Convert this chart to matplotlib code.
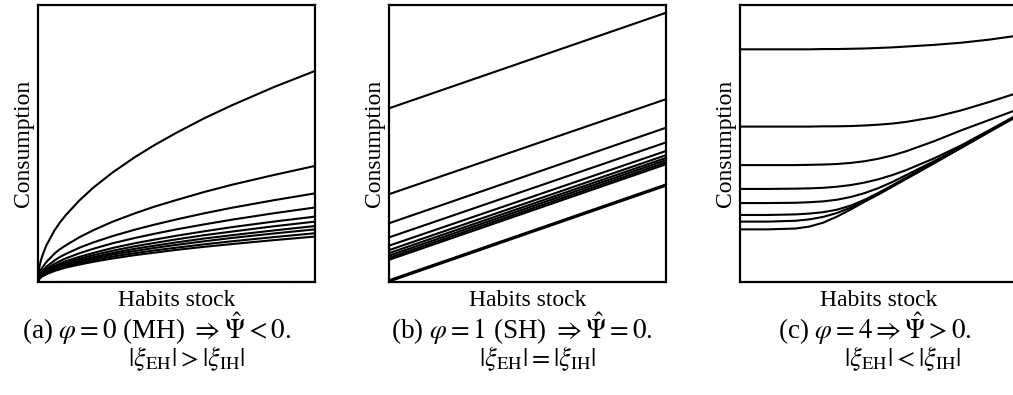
import matplotlib
matplotlib.use('Agg')
import matplotlib.pyplot as plt

plt.rcParams['font.family'] = ['Liberation Serif', 'DejaVu Serif']
plt.rcParams['mathtext.fontset'] = 'stix'

# panel (a): concave curves from the origin (phi = 0)
xa = [0, 0.005, 0.01, 0.015, 0.03, 0.06, 0.08, 0.1, 0.15, 0.2, 0.27, 0.35, 0.42, 0.5, 0.6, 0.7, 0.85, 1.0]
curves_a = [
    [0, 0.054, 0.076, 0.093, 0.132, 0.187, 0.216, 0.241, 0.295, 0.341, 0.396, 0.451, 0.494, 0.539, 0.591, 0.638, 0.703, 0.762],
    [0, 0.030, 0.042, 0.051, 0.072, 0.103, 0.119, 0.132, 0.162, 0.187, 0.218, 0.248, 0.272, 0.296, 0.325, 0.351, 0.386, 0.419],
    [0, 0.023, 0.032, 0.039, 0.055, 0.078, 0.091, 0.101, 0.124, 0.143, 0.166, 0.189, 0.207, 0.226, 0.248, 0.268, 0.295, 0.320],
    [0, 0.019, 0.027, 0.033, 0.047, 0.066, 0.076, 0.085, 0.104, 0.120, 0.140, 0.159, 0.174, 0.190, 0.208, 0.225, 0.248, 0.269],
    [0, 0.017, 0.024, 0.029, 0.041, 0.058, 0.067, 0.075, 0.091, 0.105, 0.123, 0.140, 0.153, 0.167, 0.183, 0.198, 0.218, 0.236],
    [0, 0.015, 0.022, 0.027, 0.038, 0.053, 0.062, 0.069, 0.084, 0.097, 0.113, 0.129, 0.141, 0.154, 0.169, 0.182, 0.201, 0.218],
    [0, 0.014, 0.020, 0.025, 0.035, 0.049, 0.057, 0.064, 0.078, 0.090, 0.105, 0.120, 0.131, 0.143, 0.157, 0.169, 0.186, 0.202],
    [0, 0.013, 0.019, 0.023, 0.033, 0.047, 0.054, 0.060, 0.074, 0.085, 0.099, 0.112, 0.123, 0.134, 0.147, 0.159, 0.175, 0.190],
    [0, 0.012, 0.018, 0.021, 0.030, 0.043, 0.050, 0.056, 0.068, 0.079, 0.092, 0.104, 0.114, 0.124, 0.136, 0.147, 0.162, 0.176],
    [0, 0.012, 0.016, 0.020, 0.028, 0.040, 0.046, 0.052, 0.063, 0.073, 0.085, 0.097, 0.106, 0.116, 0.127, 0.137, 0.151, 0.164],
]
base_a_x = [0.06, 1.0]
base_a_y = [0.004, 0.004]

# panel (b): parallel straight lines (phi = 1)
xb = [0.0, 1.0]
curves_b = [
    [0.627, 0.972],
    [0.317, 0.660],
    [0.212, 0.557],
    [0.161, 0.504],
    [0.131, 0.473],
    [0.115, 0.458],
    [0.104, 0.448],
    [0.095, 0.440],
    [0.087, 0.432],
    [0.080, 0.425],
]
base_b = [0.004, 0.350]

# panel (c): flat then rising onto a common line (phi = 4)
xc = [0, 0.1, 0.2, 0.25, 0.3, 0.35, 0.4, 0.45, 0.5, 0.55, 0.6, 0.7, 0.8, 0.9, 1.0]
curves_c = [
    [0.840, 0.840, 0.840, 0.840, 0.841, 0.841, 0.842, 0.843, 0.845, 0.847, 0.850, 0.856, 0.864, 0.875, 0.889],
    [0.561, 0.561, 0.561, 0.561, 0.562, 0.562, 0.563, 0.565, 0.568, 0.572, 0.578, 0.595, 0.620, 0.650, 0.682],
    [0.422, 0.422, 0.422, 0.423, 0.424, 0.426, 0.430, 0.436, 0.445, 0.457, 0.472, 0.508, 0.548, 0.585, 0.622],
    [0.336, 0.336, 0.337, 0.338, 0.340, 0.344, 0.350, 0.359, 0.371, 0.386, 0.404, 0.446, 0.494, 0.548, 0.603],
    [0.285, 0.285, 0.286, 0.288, 0.291, 0.297, 0.307, 0.321, 0.339, 0.361, 0.386, 0.436, 0.489, 0.545, 0.601],
    [0.242, 0.242, 0.244, 0.247, 0.252, 0.261, 0.276, 0.297, 0.322, 0.349, 0.377, 0.432, 0.487, 0.544, 0.600],
    [0.218, 0.218, 0.221, 0.226, 0.235, 0.249, 0.269, 0.293, 0.319, 0.346, 0.374, 0.430, 0.486, 0.543, 0.599],
    [0.190, 0.190, 0.193, 0.200, 0.214, 0.236, 0.262, 0.290, 0.316, 0.344, 0.372, 0.428, 0.485, 0.542, 0.598],
]

captions = [
    (r'(a) $\varphi = 0$ (MH) $\Rightarrow \hat{\Psi} < 0.$',
     r'$|\xi_{\mathrm{EH}}| > |\xi_{\mathrm{IH}}|$'),
    (r'(b) $\varphi = 1$ (SH) $\Rightarrow \hat{\Psi} = 0.$',
     r'$|\xi_{\mathrm{EH}}| = |\xi_{\mathrm{IH}}|$'),
    (r'(c) $\varphi = 4 \Rightarrow \hat{\Psi} > 0.$',
     r'$|\xi_{\mathrm{EH}}| < |\xi_{\mathrm{IH}}|$'),
]

W, H = 1013, 395
fig = plt.figure(figsize=(W / 100, H / 100), dpi=100)

lefts = [38, 389, 740]
axes = []
for l in lefts:
    ax = fig.add_axes([l / W, (H - 282) / H, 277 / W, 277 / H])
    ax.set_xlim(0, 1)
    ax.set_ylim(0, 1)
    ax.set_xticks([])
    ax.set_yticks([])
    for s in ax.spines.values():
        s.set_linewidth(1.6)
    ax.set_xlabel('Habits stock', fontsize=17, labelpad=6)
    ax.set_ylabel('Consumption', fontsize=17, labelpad=3)
    axes.append(ax)

lw = 1.5
for ys in curves_a:
    axes[0].plot(xa, ys, color='black', lw=lw)
axes[0].plot(base_a_x, base_a_y, color='0.45', lw=1.0, ls=':')

for ys in curves_b:
    axes[1].plot(xb, ys, color='black', lw=lw)
axes[1].plot(xb, base_b, color='black', lw=2.4)

for ys in curves_c:
    axes[2].plot(xc, ys, color='black', lw=lw)

cap_x = [(157, 187), (522, 538), (875, 903)]
for (l1, l2), (x1, x2) in zip(captions, cap_x):
    fig.text(x1 / W, (H - 339) / H, l1, fontsize=19.5, ha='center', va='baseline')
    fig.text(x2 / W, (H - 366) / H, l2, fontsize=19, ha='center', va='baseline')

fig.savefig('out.png', dpi=100)
